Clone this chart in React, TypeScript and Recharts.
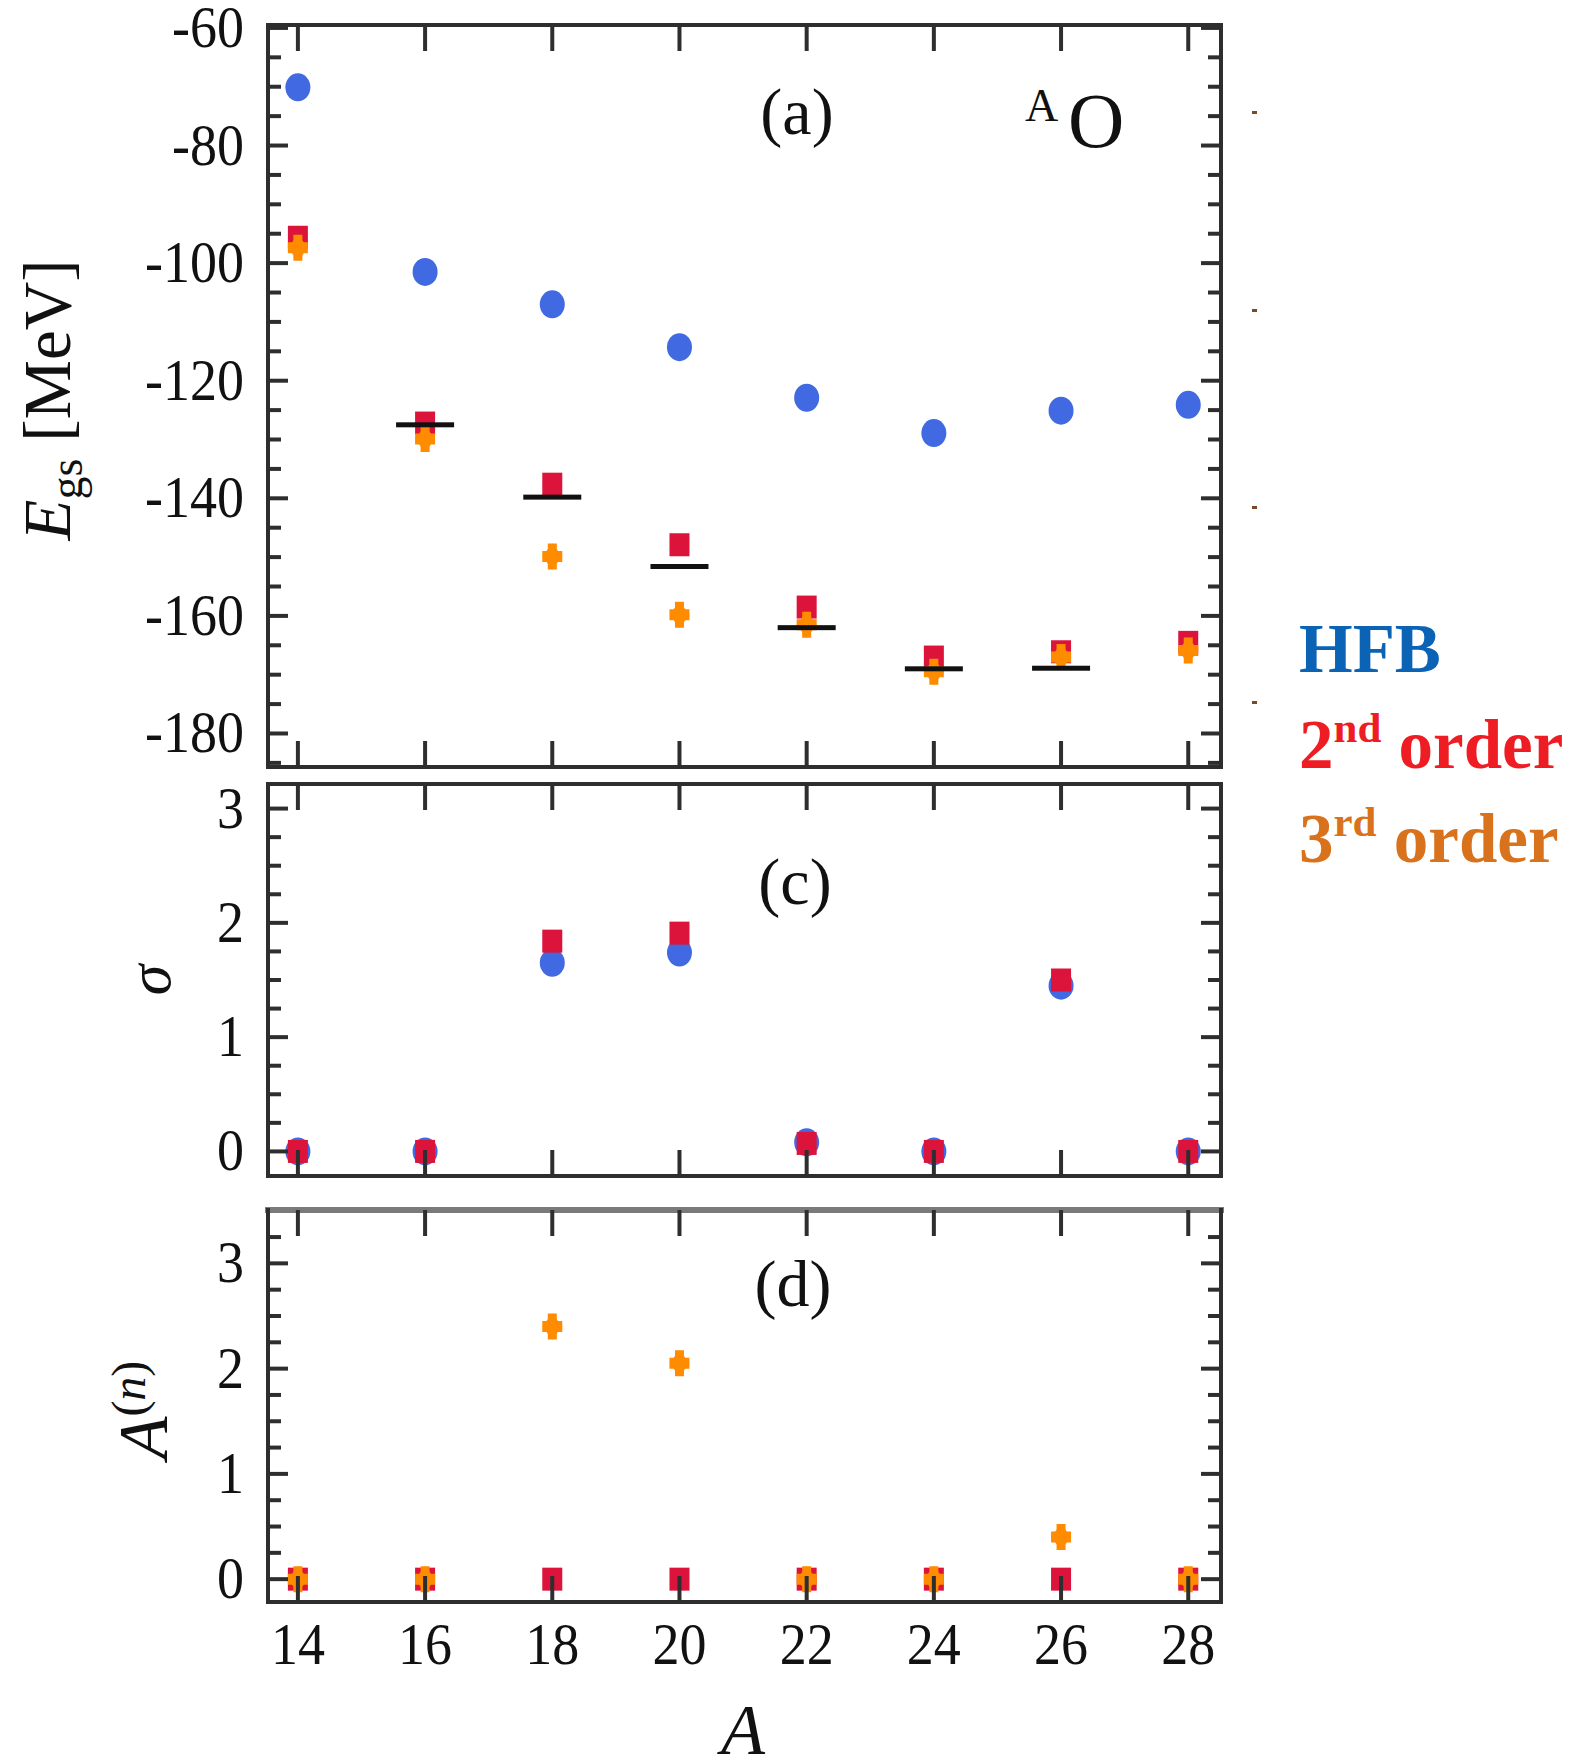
import React from 'react';
import { ScatterChart, Scatter, XAxis, YAxis } from 'recharts';

// ---------- data ----------
const massNumbers = [14, 16, 18, 20, 22, 24, 26, 28];
const egsHFB = [-70.1, -101.5, -107.0, -114.3, -122.9, -128.9, -125.1, -124.1];
const egs2nd = [-95.6, -127.2, -137.6, -147.9, -158.5, -167.0, -166.1, -164.5];
const egs3rd = [-97.4, -129.9, -149.9, -159.8, -161.5, -169.5, -167.0, -165.9];
const expMass = [16, 18, 20, 22, 24, 26];
const egsExp = [-127.5, -139.8, -151.6, -162.0, -169.0, -168.9];
const sigmaHFB = [0, 0, 1.65, 1.74, 0.08, 0, 1.45, 0];
const sigma2nd = [0, 0, 1.84, 1.91, 0.07, 0, 1.5, 0];
const amp2nd = [0, 0, 0, 0, 0, 0, 0, 0];
const amp3rd = [0, 0, 2.4, 2.05, 0, 0, 0.4, 0];

const xTicks = [14, 16, 18, 20, 22, 24, 26, 28];
const aTicksMinor = [-185, -180, -175, -170, -165, -160, -155, -150, -145, -140, -135, -130, -125, -120, -115, -110, -105, -100, -95, -90, -85, -80, -75, -70, -65, -60];
const aTicksMajor = [-180, -160, -140, -120, -100, -80, -60];
const cTicksMinor = [0, 0.25, 0.5, 0.75, 1, 1.25, 1.5, 1.75, 2, 2.25, 2.5, 2.75, 3];
const cTicksMajor = [0, 1, 2, 3];
const dTicksMinor = [0, 0.25, 0.5, 0.75, 1, 1.25, 1.5, 1.75, 2, 2.25, 2.5, 2.75, 3, 3.25];
const dTicksMajor = [0, 1, 2, 3];

const toRows = (xs: number[], ys: number[]) => xs.map((x, i) => ({ x, y: ys[i] }));

// ---------- styling ----------
const FONT = "'Liberation Serif', 'DejaVu Serif', 'Times New Roman', serif";
const BLUE = '#4169E1';
const RED = '#DC143C';
const ORANGE = '#FF8C00';
const AXIS = '#2e2e2e';
const X_DOMAIN: [number, number] = [13.53, 28.515];
const W = 1577;
const PLOT_LEFT = 268;
const PLOT_RIGHT = 1221;

// ---------- marker shapes ----------
const Circle = (p: any) => <ellipse cx={p.cx} cy={p.cy} rx={12.5} ry={14} fill={BLUE} />;
const Square = (p: any) => <rect x={p.cx - 10} y={p.cy - 11.5} width={20} height={23} fill={RED} />;
const Plus = (p: any) => {
  const { cx, cy } = p;
  const hw = 10, hh = 13, aw = 4.5, ah = 5.5;
  const pts = [
    [cx - aw, cy - hh], [cx + aw, cy - hh], [cx + aw, cy - ah], [cx + hw, cy - ah],
    [cx + hw, cy + ah], [cx + aw, cy + ah], [cx + aw, cy + hh], [cx - aw, cy + hh],
    [cx - aw, cy + ah], [cx - hw, cy + ah], [cx - hw, cy - ah], [cx - aw, cy - ah],
  ].map((q) => q.join(',')).join(' ');
  const dia = `${cx},${cy - hh} ${cx + hw},${cy} ${cx},${cy + hh} ${cx - hw},${cy}`;
  return (
    <g>
      <polygon points={dia} fill={ORANGE} />
      <polygon points={pts} fill={ORANGE} />
    </g>
  );
};
const Dash = (p: any) => <rect x={p.cx - 29} y={p.cy - 2.5} width={58} height={5} fill="#111" />;

// ---------- ticks ----------
const near = (arr: number[], v: number) => arr.some((m) => Math.abs(m - v) < 1e-9);

function yTick(side: 'left' | 'right', majors: number[], fmt: ((v: number) => string) | null) {
  return (props: any) => {
    const { x, y, payload } = props;
    const v = payload.value;
    const major = near(majors, v);
    const len = major ? 20 : 13;
    const dir = side === 'left' ? 1 : -1;
    return (
      <g>
        <line x1={x} x2={x + dir * len} y1={y} y2={y} stroke={AXIS} strokeWidth={4} />
        {fmt && major && (
          <text
            transform={`translate(${x - 24}, ${y + 19}) scale(1, 1.08)`}
            textAnchor="end"
            fontFamily={FONT}
            fontSize={54}
            fill="#111"
          >
            {fmt(v)}
          </text>
        )}
      </g>
    );
  };
}

function xTick(side: 'top' | 'bottom', showLabel: boolean) {
  return (props: any) => {
    const { x, y, payload } = props;
    const dir = side === 'top' ? 1 : -1;
    return (
      <g>
        <line x1={x} x2={x} y1={y} y2={y + dir * 26} stroke={AXIS} strokeWidth={4} />
        {showLabel && (
          <text
            transform={`translate(${x}, ${y + 62}) scale(1, 1.1)`}
            textAnchor="middle"
            fontFamily={FONT}
            fontSize={54}
            fill="#111"
          >
            {payload.value}
          </text>
        )}
      </g>
    );
  };
}

// ---------- panel ----------
type PanelProps = {
  top: number;
  height: number;
  plotTop: number;
  plotBottom: number;
  yDomain: [number, number];
  yMinor: number[];
  yMajor: number[];
  fmt: (v: number) => string;
  xLabels: boolean;
  topStroke?: string;
  topWidth?: number;
  children: React.ReactNode;
};

function Panel(p: PanelProps) {
  const axH = 10;
  const axW = 10;
  const margin = {
    top: p.plotTop - axH,
    bottom: p.height - p.plotBottom - axH,
    left: PLOT_LEFT - axW,
    right: W - PLOT_RIGHT - axW,
  };
  const line = { stroke: AXIS, strokeWidth: 4, strokeLinecap: 'square' as const };
  return (
    <div style={{ position: 'absolute', left: 0, top: p.top, width: W, height: p.height }}>
      <ScatterChart width={W} height={p.height} margin={margin}>
        <XAxis
          xAxisId={0}
          type="number"
          dataKey="x"
          domain={X_DOMAIN}
          ticks={xTicks}
          interval={0}
          allowDataOverflow
          orientation="bottom"
          height={axH}
          tickSize={0}
          tickMargin={0}
          tickLine={false}
          axisLine={line}
          tick={xTick('bottom', p.xLabels)}
        />
        <XAxis
          xAxisId="top"
          type="number"
          dataKey="x"
          domain={X_DOMAIN}
          ticks={xTicks}
          interval={0}
          allowDataOverflow
          orientation="top"
          height={axH}
          tickSize={0}
          tickMargin={0}
          tickLine={false}
          axisLine={{ ...line, stroke: p.topStroke || AXIS, strokeWidth: p.topWidth || 4 }}
          tick={xTick('top', false)}
        />
        <YAxis
          yAxisId={0}
          type="number"
          dataKey="y"
          domain={p.yDomain}
          ticks={p.yMinor}
          interval={0}
          allowDataOverflow
          orientation="left"
          width={axW}
          tickSize={0}
          tickMargin={0}
          tickLine={false}
          axisLine={line}
          tick={yTick('left', p.yMajor, p.fmt)}
        />
        <YAxis
          yAxisId="right"
          type="number"
          dataKey="y"
          domain={p.yDomain}
          ticks={p.yMinor}
          interval={0}
          allowDataOverflow
          orientation="right"
          width={axW}
          tickSize={0}
          tickMargin={0}
          tickLine={false}
          axisLine={line}
          tick={yTick('right', p.yMajor, null)}
        />
        {p.children}
      </ScatterChart>
    </div>
  );
}

const intFmt = (v: number) => String(v);

export default function App() {
  return (
    <div style={{ position: 'absolute', left: 0, top: 0, width: W, height: 1756, background: '#fff', overflow: 'hidden' }}>
      {/* panel (a) */}
      <Panel
        top={0}
        height={776}
        plotTop={25}
        plotBottom={767}
        yDomain={[-185.7, -59.5]}
        yMinor={aTicksMinor}
        yMajor={aTicksMajor}
        fmt={intFmt}
        xLabels={false}
      >
        <Scatter name="HFB" data={toRows(massNumbers, egsHFB)} shape={Circle} isAnimationActive={false} />
        <Scatter name="2nd order" data={toRows(massNumbers, egs2nd)} shape={Square} isAnimationActive={false} />
        <Scatter name="3rd order" data={toRows(massNumbers, egs3rd)} shape={Plus} isAnimationActive={false} />
        <Scatter name="Experiment" data={toRows(expMass, egsExp)} shape={Dash} isAnimationActive={false} />
      </Panel>

      {/* panel (c) */}
      <Panel
        top={770}
        height={424}
        plotTop={14}
        plotBottom={406}
        yDomain={[-0.215, 3.215]}
        yMinor={cTicksMinor}
        yMajor={cTicksMajor}
        fmt={intFmt}
        xLabels={false}
      >
        <Scatter name="HFB" data={toRows(massNumbers, sigmaHFB)} shape={Circle} isAnimationActive={false} />
        <Scatter name="2nd order" data={toRows(massNumbers, sigma2nd)} shape={Square} isAnimationActive={false} />
      </Panel>

      {/* panel (d) */}
      <Panel
        top={1194}
        height={562}
        plotTop={16}
        plotBottom={408}
        yDomain={[-0.217, 3.507]}
        yMinor={dTicksMinor}
        yMajor={dTicksMajor}
        fmt={intFmt}
        xLabels={true}
        topStroke="#7a7a7a"
        topWidth={6}
      >
        <Scatter name="2nd order" data={toRows(massNumbers, amp2nd)} shape={Square} isAnimationActive={false} />
        <Scatter name="3rd order" data={toRows(massNumbers, amp3rd)} shape={Plus} isAnimationActive={false} />
      </Panel>

      {/* annotations */}
      <svg width={W} height={1756} style={{ position: 'absolute', left: 0, top: 0, pointerEvents: 'none' }}>
        <g fontFamily={FONT} fill="#111">
          <text x={797} y={134} textAnchor="middle" fontSize={66}>(a)</text>
          <text x={795} y={904} textAnchor="middle" fontSize={66}>(c)</text>
          <text x={793} y={1306} textAnchor="middle" fontSize={66}>(d)</text>
          <text x={1025} y={121} fontSize={46}>A</text>
          <text x={1068} y={147} fontSize={78}>O</text>

          <text transform="translate(70, 400) rotate(-90)" textAnchor="middle" fontSize={67}>
            <tspan fontStyle="italic">E</tspan>
            <tspan fontSize={46} dy={12}>gs</tspan>
            <tspan dy={-12}> [MeV]</tspan>
          </text>
          <text transform="translate(170, 980) rotate(-90)" textAnchor="middle" fontSize={62} fontStyle="italic">σ</text>
          <text transform="translate(167, 1410) rotate(-90)" textAnchor="middle" fontSize={70}>
            <tspan fontStyle="italic">A</tspan>
            <tspan fontSize={48} dy={-22}>(</tspan>
            <tspan fontSize={48} fontStyle="italic">n</tspan>
            <tspan fontSize={48}>)</tspan>
          </text>
          <text x={743} y={1754} textAnchor="middle" fontSize={72} fontStyle="italic">A</text>
        </g>

        <g fill="#7a4a2a">
          <rect x={1252} y={111} width={5} height={3} />
          <rect x={1252} y={309} width={5} height={3} />
          <rect x={1252} y={506} width={5} height={3} />
          <rect x={1252} y={701} width={5} height={3} />
        </g>

        <g fontFamily={FONT} fontWeight="bold" fontSize={69}>
          <text x={1299} y={672} fill="#0B63B5">HFB</text>
          <text x={1299} y={768} fill="#EE1D23">
            2<tspan fontSize={43} dy={-26}>nd</tspan>
            <tspan dy={26}> order</tspan>
          </text>
          <text x={1299} y={862} fill="#D9721C">
            3<tspan fontSize={43} dy={-26}>rd</tspan>
            <tspan dy={26}> order</tspan>
          </text>
        </g>
      </svg>
    </div>
  );
}
